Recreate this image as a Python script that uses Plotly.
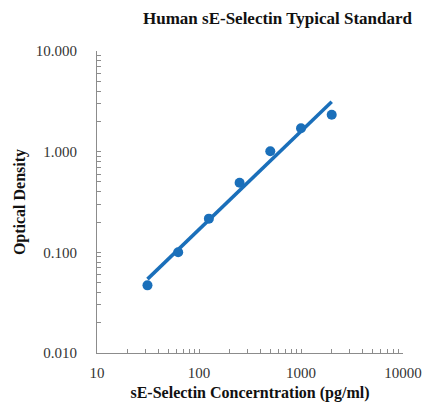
import numpy as np
import plotly.graph_objects as go

conc = [31.25, 62.5, 125, 250, 500, 1000, 2000]
od = [0.047, 0.100, 0.216, 0.492, 1.01, 1.71, 2.33]

x_ticks = [10, 100, 1000, 10000]
x_ticktext = ["10", "100", "1000", "10000"]
y_ticks = [0.01, 0.1, 1, 10]
y_ticktext = ["0.010", "0.100", "1.000", "10.000"]

title = "Human sE-Selectin Typical Standard"
x_title = "sE-Selectin Concerntration (pg/ml)"
y_title = "Optical Density"

# power trendline (least squares in log-log space)
lx = np.log10(conc)
ly = np.log10(od)
b, a = np.polyfit(lx, ly, 1)
fit_x = [conc[0], conc[-1]]
fit_y = [10 ** (a + b * np.log10(v)) for v in fit_x]


def minor_vals(ticks):
    out = []
    for t in ticks[:-1]:
        out += [t * k for k in range(2, 10)]
    return out


blue = "#1a6fba"
font = "Liberation Serif, Times New Roman, serif"
axcol = "#8c8c8c"

W, H = 422, 403

fig = go.Figure()
fig.add_trace(go.Scatter(x=conc, y=od, mode="markers",
                         marker=dict(color=blue, size=10), showlegend=False))
fig.add_trace(go.Scatter(x=fit_x, y=fit_y, mode="lines",
                         line=dict(color=blue, width=3.5), showlegend=False))

common = dict(showgrid=False, zeroline=False, showline=True, linecolor=axcol,
              linewidth=1, ticks="inside", ticklen=4, tickcolor=axcol,
              automargin=False, ticklabeloverflow="allow",
              tickfont=dict(family=font, size=15, color="#333333"))

fig.update_layout(
    width=W, height=H,
    margin=dict(l=97, r=19, t=51, b=50, autoexpand=False),
    paper_bgcolor="white", plot_bgcolor="white",
    font=dict(family=font, color="#333333", size=15),
    title=dict(text="<b>" + title + "</b>", x=277.5 / W, xanchor="center",
               y=1 - 18 / H, yanchor="middle",
               font=dict(family=font, size=17, color="#111111")),
    xaxis=dict(type="log", range=[1, 4], tickvals=x_ticks, ticktext=x_ticktext,
               minor=dict(tickvals=minor_vals(x_ticks), ticks="inside", ticklen=4,
                          tickcolor=axcol, showgrid=False),
               ticklabelstandoff=6,
               title=dict(text="<b>" + x_title + "</b>", standoff=6,
                          font=dict(family=font, size=16, color="#111111")),
               **common),
    yaxis=dict(type="log", range=[-2, 1], tickvals=y_ticks, ticktext=y_ticktext,
               minor=dict(tickvals=minor_vals(y_ticks), ticks="inside", ticklen=4,
                          tickcolor=axcol, showgrid=False),
               ticklabelstandoff=16,
               title=dict(text="<b>" + y_title + "</b>", standoff=6,
                          font=dict(family=font, size=16, color="#111111")),
               **common),
)

fig.write_html(
    "out.html",
    config={"displayModeBar": False},
    post_script="document.body.style.margin='0';document.body.style.overflow='hidden';",
)
